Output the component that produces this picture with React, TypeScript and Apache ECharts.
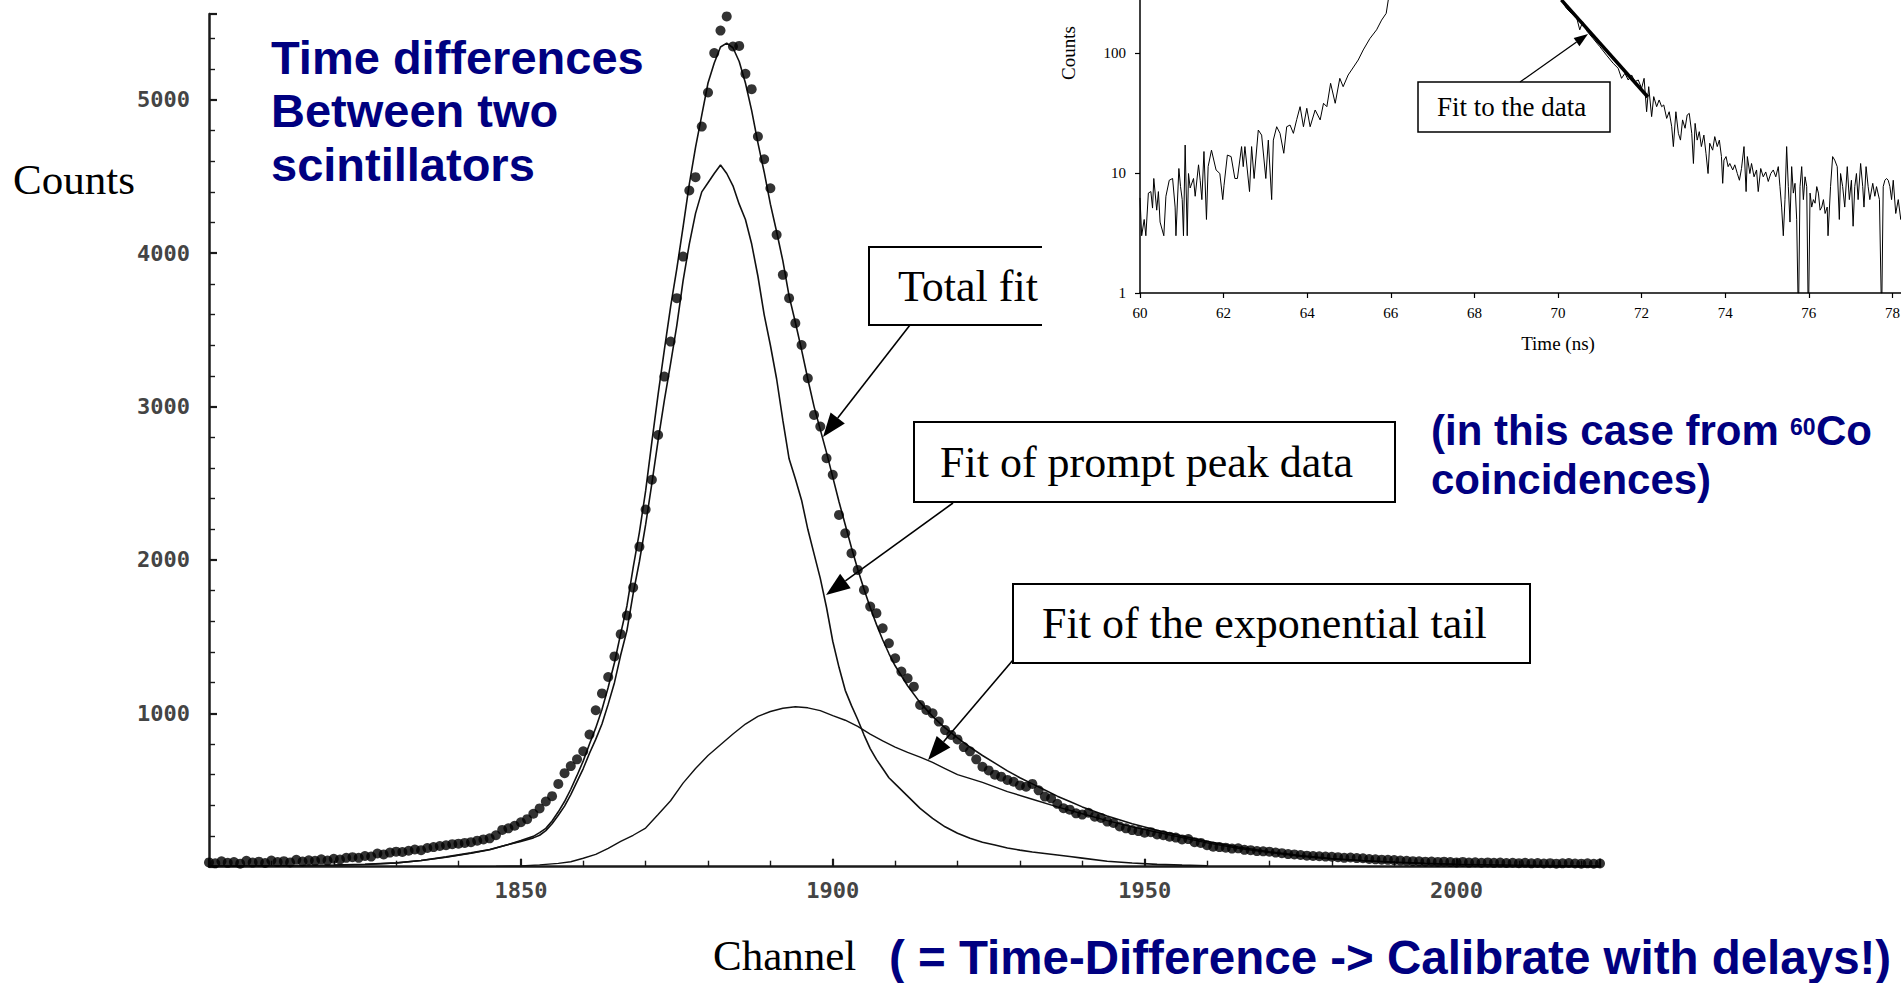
import React, { useEffect, useRef } from 'react';
import * as echarts from 'echarts';

// ---------------- DATA ----------------
// Measured counts, one per channel starting at channel 1800
const DOT_START_CHANNEL = 1800;
const dotCounts = [
  // 1800-1822
  28, 22, 35, 25, 30, 20, 38, 27, 33, 24, 40, 30, 36, 28, 45, 34, 42, 38, 48, 40, 52, 47, 58,
  // 1823-1852
  62, 58, 70, 66, 86, 80, 92, 98, 96, 104, 112, 108, 122, 128, 135, 140, 147, 150, 155, 160,
  170, 178, 185, 205, 240, 250, 267, 290, 310, 345,
  // 1853-1898
  380, 425, 460, 540, 610, 656, 700, 753, 862, 1020, 1130, 1237, 1371, 1516, 1638, 1820, 2087,
  2329, 2523, 2815, 3196, 3424, 3707, 3978, 4409, 4496, 4826, 5048, 5305, 5452, 5544, 5348,
  5352, 5170, 5070, 4761, 4613, 4424, 4120, 3859, 3707, 3544, 3402, 3185, 2946, 2870,
  // 1899-1920
  2663, 2555, 2294, 2174, 2044, 1935, 1805, 1696, 1653, 1555, 1457, 1359, 1272, 1229, 1174,
  1055, 1022, 1000, 946, 891, 859, 830,
  // 1921-1960
  780, 752, 700, 652, 628, 600, 587, 566, 554, 530, 522, 540, 498, 457, 446, 410, 381, 372,
  348, 340, 352, 326, 318, 294, 285, 262, 250, 239, 232, 222, 225, 210, 205, 196, 190, 178,
  180, 160, 155, 140,
  // 1961-2023
  130, 128, 124, 118, 120, 110, 108, 102, 100, 98, 92, 88, 82, 80, 76, 72, 70, 68, 66, 65,
  62, 58, 60, 56, 55, 50, 48, 46, 45, 43, 40, 38, 36, 35, 33, 34, 31, 33, 30, 28, 31, 27, 29,
  26, 28, 25, 27, 24, 26, 23, 25, 22, 24, 21, 23, 20, 22, 24, 21, 20, 22, 19, 21,
];

// [channel, counts]
const totalFit = [
  [1800, 2], [1805, 4], [1810, 6], [1815, 8], [1820, 11], [1825, 16], [1830, 25], [1834, 40],
  [1838, 64], [1842, 90], [1845, 112], [1848, 145], [1850, 170], [1852, 198], [1853, 222],
  [1854, 250], [1855, 298], [1856, 358], [1857, 425], [1858, 505], [1859, 595], [1860, 690],
  [1861, 800], [1862, 905], [1863, 1025], [1864, 1170], [1865, 1330], [1866, 1520], [1867, 1700],
  [1868, 1950], [1869, 2180], [1870, 2450], [1871, 2770], [1872, 3080], [1873, 3370], [1874, 3650],
  [1875, 3900], [1876, 4170], [1877, 4450], [1878, 4690], [1879, 4900], [1880, 5110], [1881, 5240],
  [1882, 5345], [1883, 5370], [1884, 5340], [1885, 5250], [1886, 5110], [1887, 4930], [1888, 4720],
  [1889, 4530], [1890, 4320], [1891, 4140], [1892, 3950], [1893, 3720], [1894, 3550], [1895, 3370],
  [1896, 3180], [1897, 3000], [1898, 2850], [1899, 2700], [1900, 2540], [1901, 2380], [1902, 2230],
  [1903, 2080], [1904, 1940], [1905, 1810], [1906, 1690], [1907, 1580], [1908, 1480], [1909, 1390],
  [1910, 1310], [1912, 1180], [1914, 1070], [1916, 980], [1918, 905], [1920, 840], [1922, 780],
  [1924, 725], [1926, 675], [1928, 625], [1930, 580], [1932, 540], [1934, 500], [1936, 460],
  [1938, 425], [1940, 390], [1944, 330], [1948, 280], [1952, 238], [1956, 200], [1960, 165],
  [1965, 128], [1970, 97], [1975, 72], [1980, 53], [1985, 40], [1990, 30], [1995, 22], [2000, 16],
  [2010, 9], [2023, 4],
];

const promptFit = [
  [1800, 1], [1805, 2], [1810, 4], [1815, 6], [1820, 9], [1825, 14], [1830, 24], [1834, 40],
  [1838, 62], [1842, 88], [1845, 110], [1848, 145], [1850, 165], [1852, 188], [1853, 205],
  [1854, 235], [1855, 280], [1856, 335], [1857, 395], [1858, 470], [1859, 555], [1860, 640],
  [1861, 740], [1862, 830], [1863, 930], [1864, 1060], [1865, 1200], [1866, 1380], [1867, 1540],
  [1868, 1780], [1869, 1990], [1870, 2230], [1871, 2500], [1872, 2780], [1873, 3040], [1874, 3280],
  [1875, 3530], [1876, 3820], [1877, 4060], [1878, 4260], [1879, 4400], [1880, 4460], [1881, 4520],
  [1882, 4576], [1883, 4520], [1884, 4440], [1885, 4320], [1886, 4220], [1887, 4060], [1888, 3850],
  [1889, 3600], [1890, 3400], [1891, 3180], [1892, 2910], [1893, 2660], [1894, 2530], [1895, 2390],
  [1896, 2200], [1897, 2040], [1898, 1880], [1899, 1690], [1900, 1470], [1901, 1300], [1902, 1150],
  [1903, 1050], [1904, 960], [1905, 860], [1906, 770], [1907, 700], [1908, 640], [1909, 580],
  [1910, 540], [1912, 460], [1914, 380], [1916, 315], [1918, 260], [1920, 218], [1922, 185],
  [1924, 160], [1926, 141], [1928, 122], [1930, 108], [1932, 96], [1934, 86], [1936, 76],
  [1938, 66], [1940, 56], [1944, 36], [1948, 24], [1952, 15], [1956, 10], [1960, 6],
];

const tailFit = [
  [1840, 0], [1846, 2], [1850, 5], [1853, 12], [1856, 22], [1858, 32], [1860, 55], [1862, 80],
  [1864, 120], [1866, 165], [1868, 205], [1870, 252], [1872, 340], [1874, 430], [1876, 545],
  [1878, 640], [1880, 725], [1882, 795], [1884, 865], [1886, 930], [1888, 980], [1890, 1012],
  [1892, 1033], [1894, 1043], [1896, 1036], [1898, 1018], [1900, 985], [1902, 955], [1904, 915],
  [1906, 865], [1908, 820], [1910, 780], [1912, 745], [1914, 715], [1916, 680], [1918, 640],
  [1920, 600], [1924, 550], [1928, 490], [1932, 440], [1936, 390], [1940, 345], [1944, 300],
  [1948, 260], [1952, 225], [1956, 190], [1960, 155], [1965, 120], [1970, 92], [1975, 68],
  [1980, 50], [1985, 38], [1990, 28], [1995, 20], [2000, 15],
];

// Inset: [time (ns), counts] — rising edge (visible part) and falling edge (visible part)
const insetRise = [
  [60.0, 6.2], [60.04, 3.0], [60.1, 4.1], [60.14, 3.0], [60.2, 6.8], [60.26, 7.0], [60.3, 5.1],
  [60.33, 9.0], [60.4, 4.9], [60.44, 7.0], [60.48, 3.9], [60.57, 3.0], [60.62, 6.4], [60.7, 8.7],
  [60.78, 9.0], [60.84, 5.2], [60.86, 3.0], [60.93, 10.9], [60.97, 7.7], [61.01, 6.0], [61.04, 3.0],
  [61.08, 17.1], [61.13, 3.0], [61.16, 9.9], [61.2, 7.5], [61.28, 9.0], [61.32, 6.4], [61.4, 11.7],
  [61.44, 8.7], [61.48, 6.0], [61.53, 15.1], [61.59, 4.1], [61.63, 11.3], [61.71, 15.5],
  [61.82, 10.6], [61.91, 9.9], [61.98, 6.0], [62.01, 7.9], [62.09, 14.1], [62.18, 13.7],
  [62.27, 9.0], [62.33, 9.0], [62.43, 16.6], [62.47, 11.3], [62.51, 16.6], [62.62, 7.0],
  [62.67, 16.6], [62.73, 9.0], [62.83, 22.8], [62.91, 20.7], [63.01, 9.0], [63.07, 18.8],
  [63.15, 6.0], [63.19, 18.8], [63.27, 24.3], [63.35, 21.4], [63.44, 14.6], [63.51, 24.3],
  [63.59, 25.1], [63.67, 21.4], [63.75, 28.0], [63.83, 35.7], [63.91, 24.3], [63.99, 34.6],
  [64.07, 24.3], [64.19, 33.5], [64.31, 27.7], [64.39, 38.1], [64.47, 35.7], [64.56, 55.9],
  [64.67, 38.1], [64.78, 61.5], [64.86, 52.4], [64.98, 65.6], [65.06, 72.1], [65.22, 87.4],
  [65.34, 106], [65.5, 132], [65.66, 156], [65.78, 188], [65.89, 214], [65.94, 277],
];

const insetFall = [
  [70.08, 277], [70.2, 236], [70.32, 214], [70.44, 201], [70.52, 156], [70.59, 182], [70.7, 151],
  [70.84, 132], [71.0, 113], [71.16, 96], [71.32, 82], [71.44, 74.5], [71.52, 61.5], [71.6, 67.7],
  [71.68, 59.6], [71.76, 65.6], [71.84, 57.7], [71.92, 59.6], [72.0, 50.8], [72.06, 61.5],
  [72.12, 32.4], [72.17, 52.4], [72.24, 29.5], [72.29, 43.3], [72.36, 35.7], [72.42, 40.6],
  [72.48, 35.7], [72.53, 36.9], [72.6, 28.5], [72.66, 32.4], [72.72, 24.3], [72.76, 16.6],
  [72.82, 32.4], [72.88, 21.4], [72.93, 18.8], [72.98, 27.7], [73.04, 23.6], [73.09, 30.4],
  [73.14, 31.4], [73.2, 21.4], [73.24, 12.0], [73.28, 25.9], [73.33, 18.8], [73.38, 22.1],
  [73.43, 16.6], [73.49, 20.7], [73.54, 14.6], [73.59, 9.9], [73.63, 17.7], [73.7, 15.5],
  [73.75, 20.1], [73.81, 16.6], [73.86, 18.8], [73.91, 13.7], [73.94, 8.2], [73.97, 12.8],
  [74.02, 13.7], [74.07, 11.3], [74.11, 12.0], [74.18, 10.6], [74.23, 11.7], [74.29, 9.9],
  [74.34, 8.7], [74.39, 10.9], [74.45, 16.6], [74.5, 7.0], [74.53, 13.7], [74.59, 9.9],
  [74.63, 12.0], [74.69, 9.3], [74.75, 10.6], [74.79, 7.0], [74.85, 10.9], [74.91, 9.3],
  [74.97, 10.2], [75.03, 8.5], [75.09, 9.9], [75.15, 10.6], [75.21, 9.3], [75.27, 11.3],
  [75.31, 7.7], [75.35, 5.2], [75.39, 3.0], [75.43, 6.0], [75.47, 16.6], [75.51, 7.7],
  [75.55, 3.9], [75.59, 11.3], [75.63, 6.8], [75.67, 8.2], [75.71, 4.1], [75.74, 1], [75.76, 1],
  [75.79, 7.7], [75.83, 11.3], [75.87, 6.0], [75.91, 9.3], [75.95, 7.7], [75.98, 1], [76.0, 1],
  [76.03, 6.8], [76.07, 5.2], [76.11, 6.0], [76.15, 5.6], [76.19, 7.7], [76.23, 6.8], [76.27, 4.9],
  [76.31, 5.2], [76.35, 6.0], [76.39, 4.6], [76.44, 5.2], [76.46, 3.0], [76.52, 7.7], [76.57, 13.7],
  [76.62, 12.8], [76.68, 11.3], [76.73, 4.1], [76.76, 9.9], [76.81, 7.7], [76.86, 5.2],
  [76.92, 11.3], [76.97, 6.0], [77.02, 8.7], [77.06, 3.6], [77.1, 7.7], [77.14, 9.9], [77.18, 6.0],
  [77.24, 12.0], [77.29, 7.7], [77.32, 5.2], [77.37, 11.3], [77.42, 7.7], [77.46, 6.0],
  [77.53, 8.2], [77.58, 6.4], [77.62, 7.7], [77.69, 6.0], [77.73, 1], [77.75, 1], [77.78, 7.7],
  [77.82, 8.7], [77.86, 9.0], [77.9, 8.7], [77.94, 7.7], [77.98, 6.0], [78.02, 8.7], [78.08, 4.6],
  [78.14, 6.0], [78.2, 4.1], [78.3, 6.5], [78.4, 5.0],
];

const insetFitLine = [[70.08, 277], [72.15, 43]];

// ---------------- STYLE HELPERS ----------------
const SERIF = '"Liberation Serif", "Times New Roman", serif';
const SANS = '"Liberation Sans", Arial, sans-serif';
const MONO = '"DejaVu Sans Mono", monospace';
const NAVY = '#000080';

function txt(text: string, x: number, y: number, size: number, family: string, opts: any = {}) {
  return {
    type: 'text',
    x,
    y,
    z: opts.z ?? 20,
    style: {
      text,
      fontSize: size,
      fontFamily: family,
      fontWeight: opts.weight ?? 'normal',
      fill: opts.fill ?? '#000',
      align: opts.align ?? 'left',
      verticalAlign: 'middle',
    },
  };
}

function arrow(sx: number, sy: number, tx: number, ty: number, L: number, W: number, lw: number, z: number) {
  const dx = tx - sx;
  const dy = ty - sy;
  const len = Math.hypot(dx, dy);
  const ux = dx / len;
  const uy = dy / len;
  const bx = tx - ux * L;
  const by = ty - uy * L;
  const nx = -uy;
  const ny = ux;
  return [
    { type: 'line', z, shape: { x1: sx, y1: sy, x2: bx, y2: by }, style: { stroke: '#000', lineWidth: lw } },
    {
      type: 'polygon',
      z,
      shape: { points: [[tx, ty], [bx + nx * W, by + ny * W], [bx - nx * W, by - ny * W]] },
      style: { fill: '#000' },
    },
  ];
}

function box(x: number, y: number, w: number, h: number, lw: number, z: number) {
  return { type: 'rect', z, shape: { x, y, width: w, height: h }, style: { fill: '#fff', stroke: '#000', lineWidth: lw } };
}

export default function App() {
  const ref = useRef<HTMLDivElement>(null);

  useEffect(() => {
    if (!ref.current) return;
    const chart = echarts.init(ref.current, undefined, { renderer: 'svg' });

    const dots = dotCounts.map((v, i) => [DOT_START_CHANNEL + i, v]);

    const mainAxisLine = { show: true, onZero: false, lineStyle: { color: '#1a1a1a', width: 2.5 } };
    const mainTick = { show: true, inside: true, length: 8, lineStyle: { color: '#1a1a1a', width: 2.2 } };
    const mainMinor = { show: true, splitNumber: 5, length: 6, lineStyle: { color: '#1a1a1a', width: 1.4 } };
    const mainLabel = {
      fontFamily: MONO,
      fontSize: 22,
      fontWeight: 'bold',
      color: '#444',
      showMinLabel: false,
      showMaxLabel: false,
      formatter: (v: number) => String(v),
    };

    const insetAxisLine = { show: true, onZero: false, lineStyle: { color: '#000', width: 1.5 } };
    const insetTick = { show: true, inside: false, length: 5, lineStyle: { color: '#000', width: 1.2 } };
    const insetLabel = { fontFamily: SERIF, fontSize: 15, color: '#000' };

    const graphics: any[] = [
      // main annotation boxes
      box(869, 247, 260, 78, 2, 3),
      txt('Total fit', 898, 286, 44, SERIF, { z: 3 }),
      ...arrow(910, 325, 823, 437, 24, 9, 1.6, 3),

      box(914, 422, 481, 80, 2, 3),
      txt('Fit of prompt peak data', 940, 462, 44, SERIF, { z: 3 }),
      ...arrow(953, 503, 826, 595, 24, 9, 1.6, 3),

      box(1013, 584, 517, 79, 2, 3),
      txt('Fit of the exponential tail', 1042, 623, 44, SERIF, { z: 3 }),
      ...arrow(1013, 660, 928, 760, 24, 9, 1.6, 3),

      // inset backdrop
      { type: 'rect', z: 5, shape: { x: 1042, y: 0, width: 900, height: 360 }, style: { fill: '#fff' } },

      // inset annotation
      box(1418, 82, 192, 50, 1.5, 11),
      txt('Fit to the data', 1437, 107, 27, SERIF, { z: 11 }),
      ...arrow(1520, 82, 1588, 34, 14, 5, 1.3, 11),

      // axis titles of main chart
      txt('Counts', 13, 179, 43, SERIF),
      txt('Channel', 713, 955, 43, SERIF),

      // blue slide texts
      txt('Time differences', 271, 57, 47, SANS, { weight: 'bold', fill: NAVY }),
      txt('Between two', 271, 110, 47, SANS, { weight: 'bold', fill: NAVY }),
      txt('scintillators', 271, 164, 47, SANS, { weight: 'bold', fill: NAVY }),
      txt('(in this case from ', 1431, 430, 42, SANS, { weight: 'bold', fill: NAVY }),
      txt('60', 1790, 427, 23, SANS, { weight: 'bold', fill: NAVY }),
      txt('Co', 1816, 430, 42, SANS, { weight: 'bold', fill: NAVY }),
      txt('coincidences)', 1431, 479, 42, SANS, { weight: 'bold', fill: NAVY }),
      txt('( = Time-Difference -> Calibrate with delays!)', 889, 957, 47.5, SANS, { weight: 'bold', fill: NAVY }),
    ];

    const option: any = {
      animation: false,
      backgroundColor: '#ffffff',
      grid: [
        { left: 209, top: 14, width: 1391, height: 852.7, outerBoundsMode: 'none', containLabel: false },
        { left: 1140, top: -187, width: 836, height: 480, outerBoundsMode: 'none', containLabel: false },
      ],
      xAxis: [
        {
          gridIndex: 0,
          type: 'value',
          min: 1800,
          max: 2023,
          interval: 50,
          axisLine: mainAxisLine,
          axisTick: mainTick,
          minorTick: mainMinor,
          axisLabel: { ...mainLabel, margin: 13 },
          splitLine: { show: false },
          minorSplitLine: { show: false },
        },
        {
          gridIndex: 1,
          type: 'value',
          min: 60,
          max: 80,
          interval: 2,
          z: 10,
          axisLine: insetAxisLine,
          axisTick: insetTick,
          axisLabel: { ...insetLabel, margin: 12 },
          splitLine: { show: false },
          name: 'Time (ns)',
          nameLocation: 'middle',
          nameGap: 41,
          nameMoveOverlap: false,
          nameTextStyle: { fontFamily: SERIF, fontSize: 19, color: '#000' },
        },
      ],
      yAxis: [
        {
          gridIndex: 0,
          type: 'value',
          min: 0,
          max: 5560,
          interval: 1000,
          axisLine: mainAxisLine,
          axisTick: mainTick,
          minorTick: mainMinor,
          axisLabel: { ...mainLabel, margin: 19 },
          splitLine: { show: false },
          minorSplitLine: { show: false },
        },
        {
          gridIndex: 1,
          type: 'log',
          logBase: 10,
          min: 1,
          max: 10000,
          z: 10,
          axisLine: insetAxisLine,
          axisTick: insetTick,
          axisLabel: { ...insetLabel, margin: 14, formatter: (v: number) => (v <= 100 ? String(v) : '') },
          splitLine: { show: false },
          minorTick: { show: false },
          name: 'Counts',
          nameLocation: 'middle',
          nameGap: 62,
          nameMoveOverlap: false,
          nameTextStyle: { fontFamily: SERIF, fontSize: 19, color: '#000' },
        },
      ],
      series: [
        {
          name: 'Total fit',
          type: 'line',
          xAxisIndex: 0,
          yAxisIndex: 0,
          data: totalFit,
          showSymbol: false,
          symbol: 'none',
          lineStyle: { color: '#111', width: 1.6 },
          clip: true,
          z: 3,
        },
        {
          name: 'Fit of prompt peak data',
          type: 'line',
          xAxisIndex: 0,
          yAxisIndex: 0,
          data: promptFit,
          showSymbol: false,
          symbol: 'none',
          lineStyle: { color: '#111', width: 1.6 },
          clip: true,
          z: 3,
        },
        {
          name: 'Fit of the exponential tail',
          type: 'line',
          xAxisIndex: 0,
          yAxisIndex: 0,
          data: tailFit,
          showSymbol: false,
          symbol: 'none',
          lineStyle: { color: '#111', width: 1.4 },
          clip: true,
          z: 3,
        },
        {
          name: 'Data',
          type: 'scatter',
          xAxisIndex: 0,
          yAxisIndex: 0,
          data: dots,
          symbol: 'circle',
          symbolSize: 10,
          itemStyle: { color: '#000' },
          clip: true,
          z: 4,
        },
        {
          name: 'Inset rise',
          type: 'line',
          xAxisIndex: 1,
          yAxisIndex: 1,
          data: insetRise,
          showSymbol: false,
          symbol: 'none',
          lineStyle: { color: '#000', width: 1 },
          clip: true,
          z: 10,
        },
        {
          name: 'Inset fall',
          type: 'line',
          xAxisIndex: 1,
          yAxisIndex: 1,
          data: insetFall,
          showSymbol: false,
          symbol: 'none',
          lineStyle: { color: '#000', width: 1 },
          clip: true,
          z: 10,
        },
        {
          name: 'Fit to the data',
          type: 'line',
          xAxisIndex: 1,
          yAxisIndex: 1,
          data: insetFitLine,
          showSymbol: false,
          symbol: 'none',
          lineStyle: { color: '#000', width: 3.5 },
          clip: true,
          z: 11,
        },
      ],
      graphic: { elements: graphics },
    };

    chart.setOption(option);
    return () => {
      chart.dispose();
    };
  }, []);

  return (
    <div
      ref={ref}
      style={{ position: 'absolute', left: 0, top: 0, width: 1901, height: 983, background: '#fff' }}
    />
  );
}
